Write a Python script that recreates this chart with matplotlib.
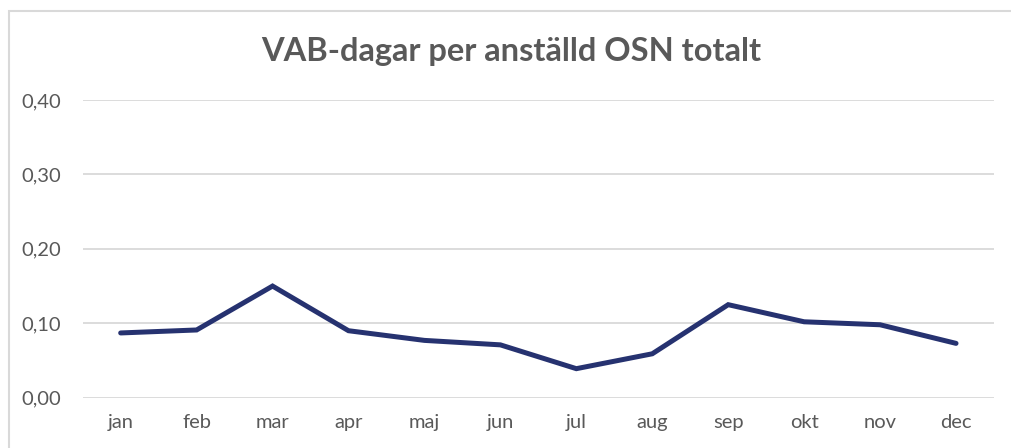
import matplotlib
matplotlib.use("Agg")
import matplotlib.pyplot as plt
from matplotlib.patches import Rectangle
from matplotlib.ticker import FuncFormatter, MultipleLocator

# VAB-dagar per anställd, OSN totalt, per månad
months = ["jan", "feb", "mar", "apr", "maj", "jun",
          "jul", "aug", "sep", "okt", "nov", "dec"]
values = [0.087, 0.091, 0.150, 0.090, 0.077, 0.071,
          0.039, 0.059, 0.125, 0.102, 0.098, 0.073]

TEXT_GREY = "#595959"
GRID_GREY = "#d9d9d9"
LINE_BLUE = "#263270"

plt.rcParams["font.family"] = ["Lato", "DejaVu Sans"]

fig = plt.figure(figsize=(10.11, 4.48), dpi=100)
fig.patch.set_facecolor("white")

# light chart frame (Excel-style chart area border)
fig.patches.append(Rectangle((9 / 1011, -0.1), 1.2, (448 - 11) / 448 + 0.1,
                             transform=fig.transFigure, fill=False,
                             edgecolor=GRID_GREY, linewidth=1.5))

ax = fig.add_axes([82.7 / 1011, 1 - 397.7 / 448, (994 - 82.7) / 1011, (397.7 - 100) / 448])

x = list(range(len(months)))
ax.plot(x, values, color=LINE_BLUE, linewidth=3.6, solid_joinstyle="miter",
        solid_capstyle="round", zorder=3)

ax.set_xlim(-0.5, len(months) - 0.5)
ax.set_ylim(0, 0.40)
ax.yaxis.set_major_locator(MultipleLocator(0.10))
ax.yaxis.set_major_formatter(FuncFormatter(lambda v, p: f"{v:.2f}".replace(".", ",")))
ax.set_xticks(x)
ax.set_xticklabels(months)

ax.grid(axis="y", color=GRID_GREY, linewidth=1.3, zorder=0)
for s in ax.spines.values():
    s.set_visible(False)
ax.tick_params(axis="both", length=0, labelsize=14.5, labelcolor=TEXT_GREY)
ax.tick_params(axis="y", pad=15.5)
ax.tick_params(axis="x", pad=12)

fig.text(0.506, 1 - 51 / 448, "VAB-dagar per anställd OSN totalt",
         ha="center", va="center", fontsize=23.5, fontweight="bold", color=TEXT_GREY)

fig.savefig("out.png", dpi=100)
